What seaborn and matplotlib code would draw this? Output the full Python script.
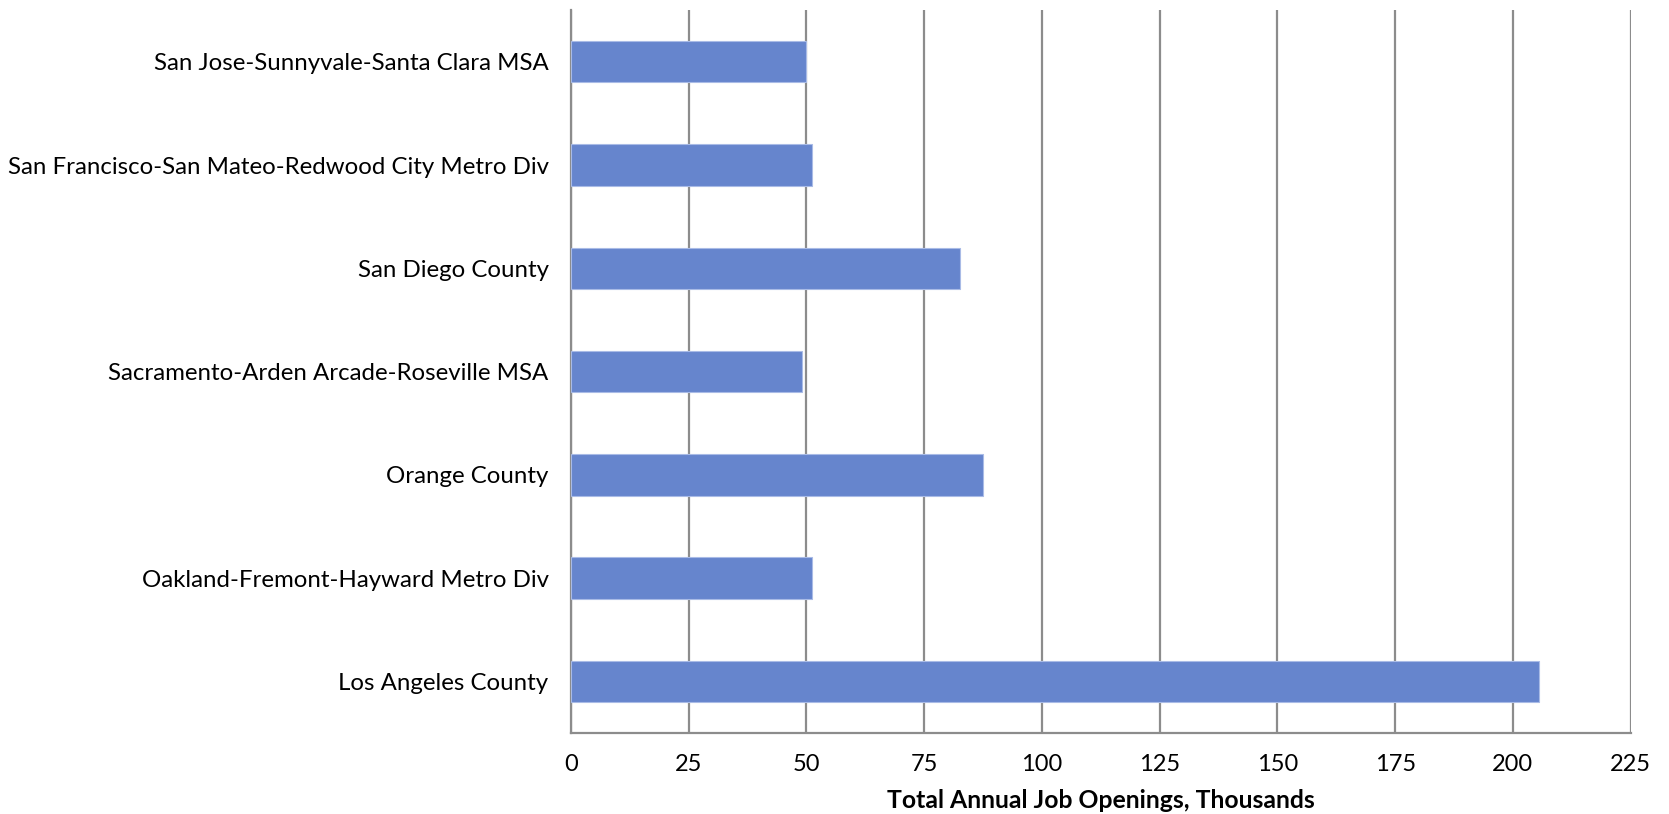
import matplotlib
matplotlib.use("Agg")
import matplotlib.pyplot as plt
import seaborn as sns
import pandas as pd
import numpy as np

regions = [
    "San Jose-Sunnyvale-Santa Clara MSA",
    "San Francisco-San Mateo-Redwood City Metro Div",
    "San Diego County",
    "Sacramento-Arden Arcade-Roseville MSA",
    "Orange County",
    "Oakland-Fremont-Hayward Metro Div",
    "Los Angeles County",
]
openings = [49.9, 51.2, 82.6, 49.1, 87.5, 51.3, 205.5]
x_ticks = [0, 25, 50, 75, 100, 125, 150, 175, 200, 225]
x_label = "Total Annual Job Openings, Thousands"

df = pd.DataFrame({"region": regions, "openings": openings})

sns.set_style("white")
plt.rcParams['font.family'] = ['Lato', 'DejaVu Sans']
plt.rcParams['text.color'] = 'black'
plt.rcParams['xtick.labelcolor'] = 'black'
plt.rcParams['ytick.labelcolor'] = 'black'
plt.rcParams['axes.labelcolor'] = 'black'

fig = plt.figure(figsize=(16.69, 8.14), dpi=100)
ax = fig.add_axes([0.342, 0.0995, 0.635, 0.888])

sns.barplot(data=df, x="openings", y="region", order=regions, orient="h",
            color="#6685cd", saturation=1, width=0.4, ax=ax, zorder=3,
            edgecolor="#a9bbe6", linewidth=0.8)

grid_c = "#8c8c8c"
ax.set_xlim(0, 225)
ax.set_ylim(len(regions) - 0.5, -0.5)
ax.set_xticks(x_ticks)
ax.set_xticklabels([str(t) for t in x_ticks], fontsize=17)
ax.xaxis.grid(True, color=grid_c, linewidth=1.6, zorder=0)
ax.set_axisbelow(True)

ax.set_yticks(range(len(regions)))
ax.set_yticklabels(regions, fontsize=17.3)
ax.set_yticks(np.arange(-0.5, len(regions), 1.0), minor=True)
ax.tick_params(axis="y", which="major", length=0, pad=16)
ax.tick_params(axis="y", which="minor", length=8, width=1.6, color=grid_c, direction="out")
ax.tick_params(axis="x", which="major", length=8, width=1.6, color=grid_c, direction="out", pad=7)

ax.set_ylabel("")
ax.set_xlabel(x_label, fontsize=17.8, fontweight="bold", labelpad=10)

for s in ["top", "right"]:
    ax.spines[s].set_visible(False)
for s in ["left", "bottom"]:
    ax.spines[s].set_color(grid_c)
    ax.spines[s].set_linewidth(1.6)

fig.savefig("out.png", dpi=100)
